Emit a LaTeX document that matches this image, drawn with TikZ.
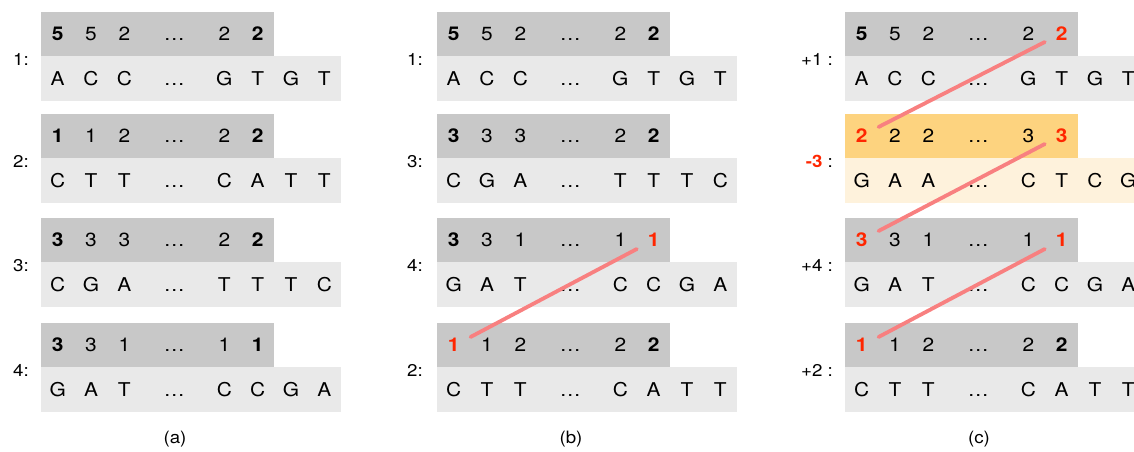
\documentclass[tikz,border=0pt]{standalone}
\usepackage{fontspec}
\setmainfont{TeX Gyre Heros}[FakeStretch=1.1]
\usetikzlibrary{calc}

\definecolor{celldark}{RGB}{200,200,200}
\definecolor{celllight}{RGB}{233,233,233}
\definecolor{hldark}{RGB}{253,211,127}
\definecolor{hllight}{RGB}{254,242,220}
\definecolor{hlred}{RGB}{255,38,0}
\definecolor{linkred}{RGB}{248,128,128}

\newcommand\bd{\bfseries}
\newcommand\rd{\bfseries\color{hlred}}

\tikzset{
  cell/.style={rectangle, inner sep=0pt, text height=13.5pt, text depth=0pt,
    font=\fontsize{19}{22}\selectfont},
  lab/.style={inner sep=0pt, text height=12pt, text depth=0pt,
    font=\fontsize{17}{20}\selectfont},
  caption/.style={inner sep=0pt, font=\fontsize{17}{20}\selectfont},
  link/.style={draw=linkred, line width=3.8pt, line cap=round},
}

% One read: top row of digits, bottom row of bases.
% #1 name, #2 x offset, #3 top y, #4 top fill, #5 bottom fill, #6 digits, #7 bases
\newcommand\seqgroup[7]{%
  \foreach \t [count=\i] in {#6} {
    \pgfmathsetmacro\cx{#2+41+33.3333*(\i-0.5)+(\i==4)*16.6667+(\i>4)*33.3333}
    \pgfmathsetmacro\cw{\i==4 ? 66.6667 : 33.3333}
    \node[cell, fill=#4, minimum width=\cw pt, minimum height=44pt]
      (#1-d\i) at (\cx, #3+22) {\t};
  }
  \foreach \t [count=\i] in {#7} {
    \pgfmathsetmacro\cx{#2+41+33.3333*(\i-0.5)+(\i==4)*16.6667+(\i>4)*33.3333}
    \pgfmathsetmacro\cw{\i==4 ? 66.6667 : 33.3333}
    \node[cell, fill=#5, minimum width=\cw pt, minimum height=45pt]
      (#1-l\i) at (\cx, #3+66.5) {\t};
  }
}

\begin{document}
\begin{tikzpicture}[x=1pt, y=-1pt]
\useasboundingbox[fill=white] (0,0) rectangle (1134,451);

% ---------- (a)
\seqgroup{a1}{0}{12}{celldark}{celllight}{\bd 5,5,2,…,2,\bd 2}{A,C,C,…,G,T,G,T}
\seqgroup{a2}{0}{114}{celldark}{celllight}{\bd 1,1,2,…,2,\bd 2}{C,T,T,…,C,A,T,T}
\seqgroup{a3}{0}{218}{celldark}{celllight}{\bd 3,3,3,…,2,\bd 2}{C,G,A,…,T,T,T,C}
\seqgroup{a4}{0}{323}{celldark}{celllight}{\bd 3,3,1,…,1,\bd 1}{G,A,T,…,C,C,G,A}
\node[lab] (a1-lab) at (21,59) {1:};
\node[lab] (a2-lab) at (21,161) {2:};
\node[lab] (a3-lab) at (21,265) {3:};
\node[lab] (a4-lab) at (21,370) {4:};
\node[caption] (cap-a) at (175,439) {(a)};

% ---------- (b)
\seqgroup{b1}{396}{12}{celldark}{celllight}{\bd 5,5,2,…,2,\bd 2}{A,C,C,…,G,T,G,T}
\seqgroup{b2}{396}{114}{celldark}{celllight}{\bd 3,3,3,…,2,\bd 2}{C,G,A,…,T,T,T,C}
\seqgroup{b3}{396}{218}{celldark}{celllight}{\bd 3,3,1,…,1,\rd 1}{G,A,T,…,C,C,G,A}
\seqgroup{b4}{396}{323}{celldark}{celllight}{\rd 1,1,2,…,2,\bd 2}{C,T,T,…,C,A,T,T}
\node[lab] (b1-lab) at (415,59) {1:};
\node[lab] (b2-lab) at (415,161) {3:};
\node[lab] (b3-lab) at (415,265) {4:};
\node[lab] (b4-lab) at (415,370) {2:};
\node[caption] (cap-b) at (571,439) {(b)};
\draw[link] ($(b4-d1.east)+(0,-8)$) -- ($(b3-d6.west)+(0,9)$);

% ---------- (c)
\seqgroup{c1}{804}{12}{celldark}{celllight}{\bd 5,5,2,…,2,\rd 2}{A,C,C,…,G,T,G,T}
\seqgroup{c2}{804}{114}{hldark}{hllight}{\rd 2,2,2,…,3,\rd 3}{G,A,A,…,C,T,C,G}
\seqgroup{c3}{804}{218}{celldark}{celllight}{\rd 3,3,1,…,1,\rd 1}{G,A,T,…,C,C,G,A}
\seqgroup{c4}{804}{323}{celldark}{celllight}{\rd 1,1,2,…,2,\bd 2}{C,T,T,…,C,A,T,T}
\node[lab, anchor=east] (c1-lab) at (833,59) {+1 :};
\node[lab, anchor=east] (c2-lab) at (833,161) {{\rd -3} :};
\node[lab, anchor=east] (c3-lab) at (833,265) {+4 :};
\node[lab, anchor=east] (c4-lab) at (833,370) {+2 :};
\node[caption] (cap-c) at (979,439) {(c)};
\draw[link] ($(c2-d1.east)+(0,-9)$) -- ($(c1-d6.west)+(0,8)$);
\draw[link] ($(c3-d1.east)+(0,-9)$) -- ($(c2-d6.west)+(0,8)$);
\draw[link] ($(c4-d1.east)+(0,-8)$) -- ($(c3-d6.west)+(0,9)$);
\end{tikzpicture}
\end{document}
